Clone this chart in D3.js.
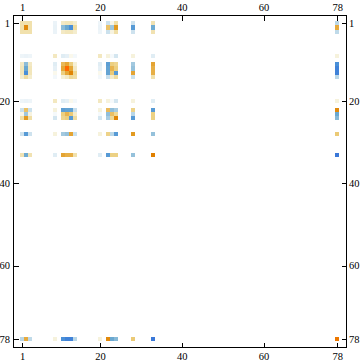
<!DOCTYPE html>
<html>
<head>
<meta charset="utf-8">
<script src="https://cdn.jsdelivr.net/npm/d3@7"></script>
<style>
  html, body { margin: 0; padding: 0; background: #fff; }
  svg { display: block; }
  .tick text { font-family: "Liberation Serif", serif; font-size: 10.5px; fill: #000; }
</style>
</head>
<body>
<div id="chart"></div>
<script>
// filas/columnas de la matriz que tienen valores (el resto queda en blanco)
const indices = [1, 2, 3, 9, 11, 12, 13, 14, 20, 22, 23, 24, 28, 33, 78];
const tickLabels = [1, 20, 40, 60, 78];

// valores, negativo = azul, positivo = naranja
const row1  = [ 1.9,  1.9,  1.9, -0.8,  1.4,  1.6,  1.6,  1.2, -0.7, -1.9,  0.6,  2.0, -1.8,  1.8, -2.3];
const row2  = [ 1.9,  5.6,  1.9, -0.9, -3.3, -4.0, -5.0,  2.2, -0.8,  3.5, -2.9,  5.0, -4.6, -3.9,  4.4];
const row3  = [ 1.9,  1.9,  1.9, -0.8,  1.4,  1.6,  1.6,  1.2, -0.7, -1.9,  0.8,  2.0, -1.8,  1.8, -2.2];
const row9  = [-0.7, -0.8, -0.7,  1.5, -1.2, -1.0,  0.5, -0.5,  1.5,  0.9, -0.4, -1.6,  0.9, -1.2,  0.9];
const row11 = [ 1.4, -3.3,  1.4, -1.2,  3.8,  4.5,  3.0,  1.0, -1.2, -4.4,  3.0,  2.6, -2.8,  4.6,  -5.0];
const row12 = [ 1.6, -4.0,  1.6, -1.0,  4.5,  7.0,  4.5,  1.4, -1.0, -4.2,  4.0,  3.0, -3.1,  4.2,  -5.6];
const row13 = [ 1.6, -5.0,  1.6,  0.5,  3.0,  4.5,  5.8,  2.4,  0.5, -4.2,  3.2, -4.6,  4.6,  4.2,  -5.6];
const row14 = [ 1.2,  2.2,  1.2, -0.5,  1.0,  1.4,  2.4,  2.1, -0.5, -2.0,  1.3,  2.2, -1.9,  1.9, -2.3];
const row20 = [-0.7, -0.8, -0.7,  1.5, -1.2, -1.0,  0.5, -0.5,  1.5,  0.9, -0.4, -1.6,  0.9, -1.2,  0.9];
const row22 = [-1.9,  3.5, -1.9,  0.9, -4.4, -4.2, -4.2, -2.0,  0.9,  3.8, -3.2, -2.7,  2.8, -4.6,  5.6];
const row23 = [ 0.6, -2.9,  0.8, -0.4,  3.0,  4.0,  3.2,  1.3, -0.4, -3.2,  3.6,  2.4, -2.3,  2.9, -4.0];
const row24 = [ 2.0,  5.0,  2.0, -1.6,  2.6,  3.0, -4.6,  2.2, -1.6, -2.7,  2.4,  5.8, -4.6,  2.9, -3.4];
const row28 = [-1.8, -4.6, -1.8,  0.9, -2.8, -3.1,  4.6, -1.9,  0.9,  2.8, -2.3, -4.6,  5.0, -3.1,  3.2];
const row33 = [ 1.8, -3.9,  1.8, -1.2,  4.6,  4.2,  4.2,  1.9, -1.2, -4.6,  2.9,  2.9, -3.1,  6.0, -6.0];
const row78 = [-2.3,  4.4, -2.2,  0.9, -5.0, -5.6, -5.6, -2.3,  0.9,  5.6, -4.0, -3.4,  3.2, -6.0,  6.4];
const matrix = [row1, row2, row3, row9, row11, row12, row13, row14, row20, row22, row23, row24, row28, row33, row78];

const width = 360;
const height = 363;
const frame = { left: 13.5, right: 346.5, top: 15.5, bottom: 347.5 };

const x = d3.scaleLinear().domain([1, 78]).range([22.2, 337.2]);
const y = d3.scaleLinear().domain([1, 78]).range([23.4, 339.4]);
const cellW = x(2) - x(1);
const cellH = y(2) - y(1);

// escala de color divergente
const color = d3.scaleLinear()
    .domain([-6, -5, -4, -3, -2, -1, 0, 1, 2, 3, 4, 5, 6, 7])
    .range(["#3a78d8", "#4a90d8", "#6aa8d0", "#9ac4dc", "#c8dfec", "#e6f0f6", "#ffffff",
            "#f5f0d8", "#f0dfa8", "#eccf80", "#e8b450", "#e29a20", "#e08000", "#ff6a00"]);

const svg = d3.select("#chart").append("svg")
    .attr("width", width)
    .attr("height", height);

// Dibujar celdas
matrix.forEach((values, r) => {
    svg.append("g").selectAll("rect")
        .data(values)
        .enter()
        .append("rect")
        .attr("x", (d, c) => x(indices[c]) - cellW / 2)
        .attr("y", y(indices[r]) - cellH / 2)
        .attr("width", cellW)
        .attr("height", cellH)
        .attr("fill", d => color(d))
        .attr("shape-rendering", "crispEdges");
});

// Marco
svg.append("rect")
    .attr("x", frame.left)
    .attr("y", frame.top)
    .attr("width", frame.right - frame.left)
    .attr("height", frame.bottom - frame.top)
    .attr("fill", "none")
    .attr("stroke", "#000")
    .attr("shape-rendering", "crispEdges");

// Ejes con marcas hacia adentro
function addAxis(axis, tx, ty, padding) {
    const g = svg.append("g")
        .attr("transform", `translate(${tx}, ${ty})`)
        .call(axis.tickValues(tickLabels).tickSizeInner(-5).tickSizeOuter(0).tickPadding(padding));
    g.select(".domain").remove();
    g.selectAll(".tick line").attr("shape-rendering", "crispEdges");
}

addAxis(d3.axisTop(x), 0, frame.top, 5);
addAxis(d3.axisBottom(x), 0, frame.bottom, 5);
addAxis(d3.axisLeft(y), frame.left, 0, 3.5);
addAxis(d3.axisRight(y), frame.right, 0, 2.5);
</script>
</body>
</html>
